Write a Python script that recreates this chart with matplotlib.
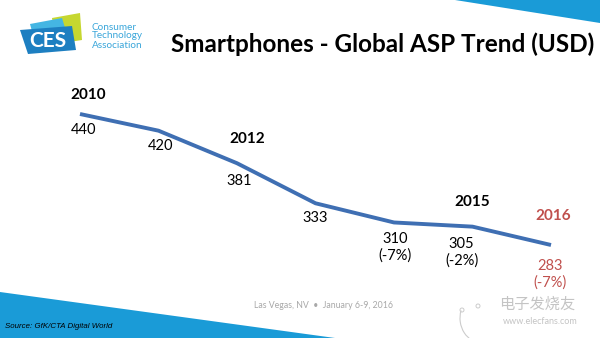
import matplotlib
matplotlib.use("Agg")
import matplotlib.pyplot as plt
from matplotlib.patches import Polygon, Arc, Circle

years = [2010, 2011, 2012, 2013, 2014, 2015, 2016]
asp = [440, 420, 381, 333, 310, 305, 283]
growth = {2014: "(-7%)", 2015: "(-2%)", 2016: "(-7%)"}
year_labels = [2010, 2012, 2015, 2016]
title = "Smartphones - Global ASP Trend (USD)"

LINE = "#3f6fb3"
RED = "#c0504d"
CYAN = "#1a9bd7"
FONT = "Lato"

fig = plt.figure(figsize=(6, 3.38), dpi=100)
bg = fig.add_axes([0, 0, 1, 1])
bg.set_xlim(0, 600)
bg.set_ylim(338, 0)
bg.axis("off")

# decorations
bg.add_patch(Polygon([(455, 0), (600, 0), (600, 23)], closed=True, color=CYAN, lw=0))
bg.add_patch(Polygon([(0, 292), (0, 338), (335, 338)], closed=True, color=CYAN, lw=0))

# CES logo
bg.add_patch(Polygon([(52, 18), (80, 13), (82, 40), (56, 44)], closed=True, color="#c6d730", lw=0))
bg.add_patch(Polygon([(30, 24), (62, 18), (70, 44), (36, 46)], closed=True, color="#44b6e3", lw=0))
bg.add_patch(Polygon([(20, 30), (72, 26), (76, 50), (28, 54)], closed=True, color="#1d7fc1", lw=0))
bg.text(48, 41, "CES", color="white", fontsize=15, fontweight="bold", family=FONT,
        ha="center", va="center")
bg.text(92, 36, "Consumer\nTechnology\nAssociation", color="#3aa6da", fontsize=7.2,
        family=FONT, ha="left", va="center", linespacing=1.0)

bg.text(383, 44, title, fontsize=17.5, fontweight="bold", family=FONT,
        ha="center", va="center", color="black")

bg.text(324, 306, "Las Vegas, NV  •  January 6-9, 2016", fontsize=6.3, color="#a8a8a8",
        family=FONT, ha="center", va="center")
bg.text(5, 327, "Source: GfK/CTA Digital World", fontsize=5.7, style="italic",
        family="Liberation Sans", ha="left", va="center", color="black")

# watermark
bg.add_patch(Arc((482, 318), 44, 50, theta1=90, theta2=200, color="#cccccc", lw=0.8))
bg.add_patch(Circle((462, 310), 2, fill=False, ec="#cccccc", lw=0.7))
bg.add_patch(Circle((478, 306), 2, fill=False, ec="#cccccc", lw=0.7))
bg.text(537, 304, "电子发烧友", fontsize=11, color="#c4c4c4", family=["Noto Sans CJK SC"],
        ha="center", va="center")
bg.text(540, 322, "www.elecfans.com", fontsize=6.5, color="#c4c4c4", family=FONT,
        ha="center", va="center")

# data axes
ax = fig.add_axes([0, 0, 1, 1])
ax.patch.set_alpha(0)
ax.axis("off")
ppy = (551 - 80) / 6.0
ax.set_xlim(2010 - 80 / ppy, 2016 + 49 / ppy)
ppv = (245 - 114) / (440 - 283)
ax.set_ylim(283 - 93 / ppv, 440 + 114 / ppv)
ax.plot(years, asp, color=LINE, lw=2.8, solid_capstyle="butt", solid_joinstyle="round")

px = 0.72  # points per pixel
offsets = {2010: (4, 16), 2011: (2, 15), 2012: (2, 18), 2013: (0, 15),
           2014: (1, 24.5), 2015: (-11, 25.5), 2016: (-1, 29.5)}
for y, v in zip(years, asp):
    dx, dy = offsets[y]
    col = RED if y == 2016 else "black"
    txt = f"{v}\n{growth[y]}" if y in growth else str(v)
    ax.annotate(txt, (y, v), xytext=(dx * px, -dy * px), textcoords="offset points",
                ha="center", va="center", fontsize=10.5, family=FONT, color=col,
                linespacing=1.2)

yoff = {2010: (8, -19), 2012: (10, -24), 2015: (0, -25), 2016: (2, -29)}
for y in year_labels:
    v = asp[years.index(y)]
    dx, dy = yoff[y]
    ax.annotate(str(y), (y, v), xytext=(dx * px, -dy * px), textcoords="offset points",
                ha="center", va="center", fontsize=11, fontweight="bold", family=FONT,
                color=RED if y == 2016 else "black")

fig.savefig("out.png", dpi=100)
